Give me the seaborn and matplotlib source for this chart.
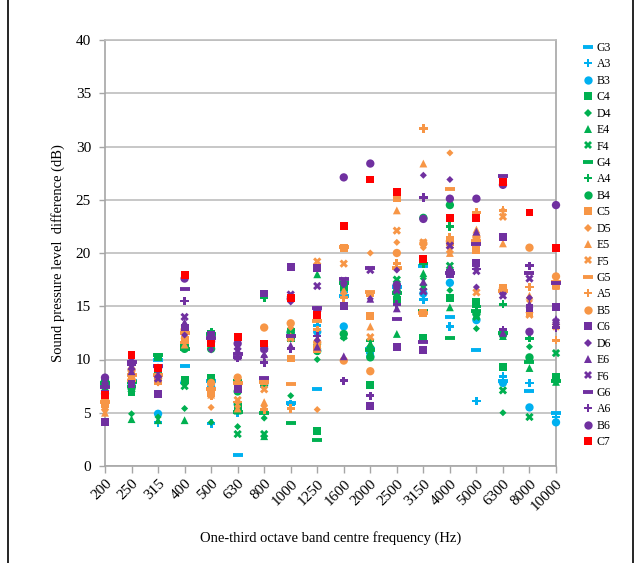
import matplotlib
matplotlib.use("Agg")
import matplotlib.pyplot as plt
import seaborn as sns
import numpy as np
import pandas as pd
from matplotlib.lines import Line2D

freqs = ["200", "250", "315", "400", "500", "630", "800", "1000", "1250", "1600",
         "2000", "2500", "3150", "4000", "5000", "6300", "8000", "10000"]

G3 = [7.5, 8.0, 10.0, 9.4, 8.0, 1.0, 8.0, 5.9, 7.2, 16.0, 11.0, 16.8, 18.8, 14.0, 10.9, 8.0, 7.0, 5.0]
A3 = [7.0, 7.8, 4.1, 7.8, 4.0, 5.0, 7.5, 5.8, 13.2, 16.4, 10.6, 16.2, 15.6, 13.1, 6.1, 8.4, 7.8, 4.6]
B3 = [6.8, 7.6, 4.9, 7.9, 7.4, 5.8, 7.6, 12.5, 12.6, 13.1, 10.3, 17.0, 16.2, 17.2, 13.7, 7.8, 5.5, 4.1]
C4 = [7.8, 6.9, 10.2, 8.1, 8.3, 5.5, 7.9, 12.0, 3.3, 17.0, 7.6, 15.5, 12.0, 15.8, 15.4, 9.3, 10.0, 8.4]
D4 = [7.5, 4.9, 4.6, 5.4, 4.1, 3.7, 4.5, 6.6, 10.0, 12.0, 10.5, 16.0, 17.6, 16.5, 12.9, 5.0, 11.2, 7.9]
E4 = [7.2, 4.4, 4.3, 4.3, 7.2, 5.2, 2.8, 12.4, 18.0, 16.8, 11.5, 12.4, 18.1, 14.9, 14.2, 12.2, 9.2, 7.9]
F4 = [7.3, 7.2, 8.0, 7.5, 8.0, 3.0, 3.0, 12.3, 11.2, 12.2, 11.0, 17.5, 16.8, 18.8, 14.0, 7.1, 4.6, 10.6]
G4 = [7.8, 7.9, 10.4, 11.0, 12.4, 5.1, 5.0, 4.0, 2.4, 17.2, 10.9, 16.2, 14.6, 12.0, 14.6, 12.5, 9.8, 8.0]
A4 = [7.6, 7.5, 8.8, 11.3, 12.6, 8.0, 15.8, 12.8, 10.8, 16.6, 11.8, 15.8, 19.0, 22.5, 15.0, 15.2, 12.0, 8.2]
B4 = [8.0, 7.3, 8.5, 11.0, 11.0, 7.0, 7.8, 12.6, 10.8, 12.4, 10.2, 16.4, 23.3, 24.5, 14.3, 12.3, 10.2, 8.1]
C5 = [5.8, 8.2, 8.0, 11.8, 7.0, 7.5, 8.0, 10.1, 11.0, 20.5, 14.1, 25.2, 14.4, 21.0, 20.3, 16.7, 14.5, 17.0]
D5 = [5.2, 8.8, 7.8, 12.0, 5.5, 5.6, 5.6, 13.0, 5.3, 16.2, 20.0, 21.0, 20.5, 29.4, 20.5, 24.0, 15.5, 17.8]
E5 = [5.0, 8.6, 8.2, 11.4, 6.7, 5.4, 6.0, 12.2, 12.0, 16.5, 13.1, 24.0, 28.4, 20.0, 22.2, 20.9, 16.0, 16.9]
F5 = [5.5, 8.4, 8.4, 12.2, 7.5, 6.2, 7.2, 12.0, 19.2, 19.0, 12.1, 22.1, 21.0, 20.3, 16.3, 23.4, 14.2, 13.1]
G5 = [6.0, 8.5, 8.5, 12.5, 7.2, 7.8, 7.9, 7.7, 13.6, 20.6, 16.3, 18.6, 14.4, 26.0, 21.1, 16.4, 18.1, 17.3]
A5 = [5.6, 8.0, 7.9, 11.6, 6.6, 6.0, 5.3, 5.4, 12.8, 15.8, 16.0, 19.0, 31.7, 21.5, 23.8, 24.0, 16.8, 11.8]
B5 = [6.2, 9.0, 8.3, 12.8, 7.8, 8.3, 13.0, 13.4, 11.6, 9.9, 8.9, 20.0, 20.9, 21.1, 21.5, 16.7, 20.5, 17.8]
C6 = [4.1, 7.7, 6.8, 13.0, 12.3, 7.2, 16.2, 18.7, 18.6, 15.0, 5.6, 11.2, 10.9, 18.0, 19.1, 21.5, 14.8, 14.9]
D6 = [8.2, 9.6, 8.9, 12.3, 10.9, 11.0, 10.3, 15.4, 11.8, 17.0, 15.7, 18.4, 27.3, 26.9, 16.8, 16.1, 15.8, 13.3]
E6 = [7.9, 8.9, 8.6, 13.5, 11.8, 10.3, 10.5, 11.3, 11.2, 10.3, 15.7, 14.8, 17.3, 18.6, 22.0, 12.5, 15.2, 13.8]
F6 = [7.6, 9.3, 8.2, 14.0, 12.2, 10.8, 11.0, 16.1, 16.9, 17.4, 18.4, 16.5, 16.4, 20.7, 18.3, 16.0, 17.6, 13.5]
G6 = [7.4, 9.8, 9.4, 16.6, 12.0, 10.5, 8.3, 12.2, 14.8, 17.6, 18.6, 13.8, 11.6, 18.1, 20.8, 27.2, 18.1, 17.2]
A6 = [7.0, 9.5, 9.0, 15.5, 11.4, 10.2, 9.7, 11.0, 12.2, 8.0, 6.6, 15.2, 25.2, 18.4, 18.5, 12.8, 18.8, 13.0]
B6 = [8.3, 9.7, 9.2, 17.6, 11.7, 11.5, 11.0, 15.7, 14.6, 27.1, 28.4, 17.0, 23.2, 25.1, 25.1, 26.4, 12.6, 24.5]
C7 = [6.7, 10.4, 9.2, 17.9, 11.5, 12.1, 11.5, 15.8, 14.2, 22.5, 26.9, 25.7, 19.4, 23.3, 23.3, 26.7, 23.8, 20.5]

series_names = ["G3", "A3", "B3", "C4", "D4", "E4", "F4", "G4", "A4", "B4", "C5", "D5", "E5",
                "F5", "G5", "A5", "B5", "C6", "D6", "E6", "F6", "G6", "A6", "B6", "C7"]
series_values = [G3, A3, B3, C4, D4, E4, F4, G4, A4, B4, C5, D5, E5,
                 F5, G5, A5, B5, C6, D6, E6, F6, G6, A6, B6, C7]

octave_colors = {"3": "#00B0F0", "4": "#00B050", "5": "#F79646", "6": "#7030A0", "7": "#FF0000"}
# note letter -> (marker, size, linewidth)
note_markers = {
    "G": ("_", 44, 2.8),
    "A": ("P", 36, 0),
    "B": ("o", 36, 0),
    "C": ("s", 32, 0),
    "D": ("D", 13, 0),
    "E": ("^", 32, 0),
    "F": ("X", 36, 0),
}

plt.rcParams["font.family"] = ["Liberation Serif", "DejaVu Serif"]

fig = plt.figure(figsize=(6.44, 5.63), dpi=100)
W, H = 644, 563
ax = fig.add_axes([105 / W, 1 - 466 / H, (556 - 105) / W, (466 - 40) / H])

handles = []
for name, vals in zip(series_names, series_values):
    col = octave_colors[name[1]]
    mk, sz, lw = note_markers[name[0]]
    df = pd.DataFrame({"freq": freqs, "val": vals})
    if mk == "_":
        sns.scatterplot(data=df, x="freq", y="val", ax=ax, marker=mk, s=sz,
                        color=col, linewidth=lw, clip_on=False, zorder=3, legend=False)
    else:
        sns.scatterplot(data=df, x="freq", y="val", ax=ax, marker=mk, s=sz,
                        color=col, edgecolor="none", linewidth=0, clip_on=False,
                        zorder=3, legend=False)
    ms = np.sqrt(sz)
    if mk == "_":
        h = Line2D([], [], linestyle="none", marker=mk, markersize=ms,
                   markeredgewidth=lw, color=col)
    else:
        h = Line2D([], [], linestyle="none", marker=mk, markersize=ms,
                   markeredgewidth=0, color=col)
    handles.append(h)

ax.set_xlim(0, len(freqs) - 1)
ax.set_ylim(0, 40)
ax.set_yticks(np.arange(0, 41, 5))
ax.set_xticks(range(len(freqs)))
ax.set_xticklabels(freqs, rotation=45, ha="right", rotation_mode="anchor")
ax.yaxis.grid(True, color="#BEBEBE", linewidth=1.2)
ax.xaxis.grid(False)
ax.set_axisbelow(True)
for side in ["left", "bottom", "right", "top"]:
    ax.spines[side].set_color("#A6A6A6")
    ax.spines[side].set_linewidth(1.2)
ax.spines["top"].set_color("#BEBEBE")
ax.tick_params(axis="x", colors="#A6A6A6", length=5, width=1, labelcolor="black",
               labelsize=11, pad=3)
ax.tick_params(axis="y", colors="#A6A6A6", length=4, width=1, labelcolor="black",
               labelsize=11, pad=6)
ax.set_xlabel("One-third octave band centre frequency (Hz)", fontsize=10.5, labelpad=13)
ax.set_ylabel("Sound pressure level  difference (dB)", fontsize=10.5, labelpad=8)

fig.legend(handles, series_names, loc="upper left",
           bbox_to_anchor=(582 / W, 1 - 42 / H), frameon=False, fontsize=8.5,
           handlelength=1.0, handletextpad=0.25, labelspacing=0.375, borderpad=0,
           borderaxespad=0)

# outer border lines
fig.add_artist(Line2D([8 / W, 8 / W], [0, 1], color="black", linewidth=1.2))
fig.add_artist(Line2D([633 / W, 633 / W], [0, 1], color="black", linewidth=1.2))

fig.savefig("out.png", dpi=100)
